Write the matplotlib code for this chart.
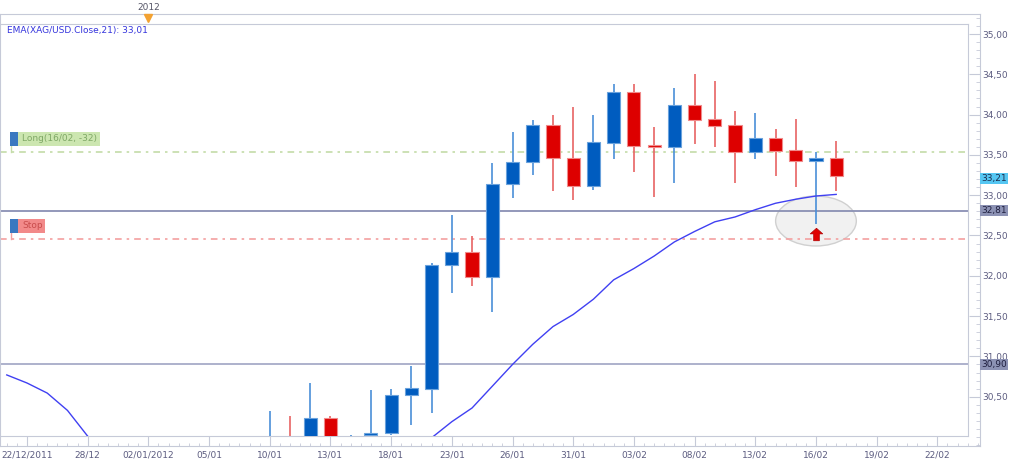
import numpy as np
import matplotlib
matplotlib.use("Agg")
import matplotlib.pyplot as plt
import matplotlib.transforms as mtransforms
from matplotlib.patches import Ellipse, Rectangle
from matplotlib.ticker import FixedLocator, MultipleLocator, FuncFormatter

# candle index 0 = 22/12/2011, one step per trading day
candle_dates = ["10/01", "11/01", "12/01", "13/01", "16/01", "17/01", "18/01",
                "19/01", "20/01", "23/01", "24/01", "25/01", "26/01", "27/01",
                "30/01", "31/01", "01/02", "02/02", "03/02", "06/02", "07/02",
                "08/02", "09/02", "10/02", "13/02", "14/02", "15/02", "16/02",
                "17/02"]
first_candle = 12
opens = [29.55, 29.95, 29.80, 30.24, 29.80, 30.02, 30.05, 30.52, 30.60, 32.13,
         32.29, 31.99, 33.135, 33.41, 33.87, 33.465, 33.12, 33.65, 34.28, 33.625,
         33.60, 34.12, 33.94, 33.87, 33.53, 33.705, 33.56, 33.43, 33.465]
highs = [30.32, 30.26, 30.67, 30.26, 30.03, 30.58, 30.59, 30.885, 32.16, 32.76,
         32.49, 33.40, 33.79, 33.93, 34.00, 34.10, 33.99, 34.375, 34.38, 33.84,
         34.33, 34.50, 34.42, 34.04, 34.02, 33.82, 33.945, 33.54, 33.67]
lows = [29.40, 29.60, 29.70, 29.70, 29.60, 29.90, 30.02, 30.15, 30.30, 31.79,
        31.87, 31.55, 32.97, 33.25, 33.05, 32.94, 33.07, 33.445, 33.29, 32.975,
        33.15, 33.64, 33.60, 33.155, 33.445, 33.24, 33.10, 32.64, 33.055]
closes = [29.85, 29.70, 30.24, 29.85, 29.95, 30.05, 30.52, 30.61, 32.13, 32.29,
          31.99, 33.135, 33.415, 33.87, 33.46, 33.12, 33.66, 34.28, 33.61, 33.60,
          34.12, 33.93, 33.86, 33.53, 33.705, 33.55, 33.43, 33.46, 33.24]

# EMA 21, index -1 .. 40
ema_start = -1
ema = [30.77, 30.67, 30.545, 30.33, 30.01, 29.84, 29.70, 29.60, 29.52, 29.46,
       29.42, 29.40, 29.40, 29.42, 29.45, 29.48, 29.52, 29.57, 29.63, 29.70,
       29.78, 29.99, 30.19, 30.36, 30.63, 30.90, 31.15, 31.37, 31.52, 31.71,
       31.95, 32.09, 32.245, 32.42, 32.55, 32.67, 32.73, 32.82, 32.90, 32.95,
       32.99, 33.01]

tick_labels = ["22/12/2011", "28/12", "02/01/2012", "05/01", "10/01", "13/01",
               "18/01", "23/01", "26/01", "31/01", "03/02", "08/02", "13/02",
               "16/02", "19/02", "22/02"]
tick_pos = list(range(0, 3 * len(tick_labels), 3))
price_ticks = [30.5, 31.0, 31.5, 32.0, 32.5, 33.0, 33.5, 34.0, 34.5, 35.0]
year_pos = 6

long_level = 33.54
stop_level = 32.46
level_lines = [32.81, 30.90]
last_price = 33.21
signal_pos = 39

# ---- layout (pixels) ----
W, H = 1024, 465
X0PX, CPX = 27.0, 20.23         # x of candle 0, px per candle
Y35, PPU = 34.0, 80.6           # y of price 35.00, px per price unit


def i_at(x):
    return (x - X0PX) / CPX


def p_at(y):
    return 35.0 - (y - Y35) / PPU


def comma(v, _=None):
    return f"{v:.2f}".replace(".", ",")


BLUE, BLUE_EDGE, BLUE_WICK = "#005cbf", "#6aa2dc", "#4a8fd8"
RED, RED_EDGE, RED_WICK = "#dd0000", "#f08a8a", "#e86464"
FRAME = "#c6cad8"
LABEL = "#5c5c80"

fig = plt.figure(figsize=(W / 100, H / 100), dpi=100)

# outer frame holding the tick strips
axo = fig.add_axes([0, (H - 446) / H, 980 / W, 432 / H])
axo.set_zorder(1)
axo.set_xlim(i_at(0), i_at(980))
for s in axo.spines.values():
    s.set_color(FRAME)
axo.xaxis.set_major_locator(FixedLocator(tick_pos))
axo.xaxis.set_minor_locator(MultipleLocator(0.5))
axo.set_xticklabels(tick_labels)
axo.yaxis.tick_right()
axo.yaxis.set_major_locator(FixedLocator(price_ticks))
axo.yaxis.set_minor_locator(MultipleLocator(0.1))
axo.yaxis.set_major_formatter(FuncFormatter(comma))
axo.set_ylim(p_at(446), p_at(14))
axo.tick_params(which="both", direction="in", colors=FRAME, labelcolor=LABEL,
                labelsize=6.5)
axo.tick_params(axis="x", which="major", length=7.5, pad=3)
axo.tick_params(axis="x", which="minor", length=2.5)
axo.tick_params(axis="y", which="major", length=8.2, pad=2)
axo.tick_params(axis="y", which="minor", length=2.8)

# year marker in the top strip
axo.plot(year_pos, p_at(18.5), marker="v", ms=6, color="#f3a232",
         clip_on=False, zorder=5)
fig.text((X0PX + year_pos * CPX) / W, 1 - 7 / H, "2012", ha="center",
         va="center", fontsize=6.5, color="#555566")

# right side price boxes
to = mtransforms.blended_transform_factory(axo.transAxes, axo.transData)
boxes = [(last_price, "#55c6f2", "#1c2c4c")] + \
        [(lv, "#8c92b4", "#202040") for lv in level_lines]
for lv, fc, tc in boxes:
    axo.text(1.0 + 1.5 / 980, lv, comma(lv), transform=to, ha="left",
             va="center", fontsize=6.5, color=tc, zorder=6, clip_on=False,
             bbox=dict(boxstyle="square,pad=0.12", fc=fc, ec="none"))

# main plot
ax = fig.add_axes([0, (H - 436) / H, 968 / W, 412 / H])
ax.set_zorder(2)
ax.set_xlim(i_at(0), i_at(968))
ax.set_ylim(p_at(436), p_at(24))
ax.set_xticks([])
ax.set_yticks([])
for s in ax.spines.values():
    s.set_color(FRAME)

o = np.array(opens)
h = np.array(highs)
l = np.array(lows)
c = np.array(closes)
idx = np.arange(first_candle, first_candle + len(candle_dates))
up = c >= o

ax.add_patch(Ellipse((signal_pos, 32.68), 3.99, 0.62, fc="#f1f1f1",
                     ec="#d0d0d0", lw=1, zorder=1))

ax.axhline(level_lines[0], color="#8a90b4", lw=1.3, zorder=2)
ax.axhline(level_lines[1], color="#a0a4c4", lw=1.2, zorder=2)
ax.axhline(long_level, color="#c4dca8", lw=1.2, ls=(0, (4, 3, 1.5, 3)), zorder=2)
ax.axhline(stop_level, color="#f4a0a0", lw=1.2, ls=(0, (4, 3, 1.5, 3)), zorder=2)

ax.vlines(idx, l, h, colors=np.where(up, BLUE_WICK, RED_WICK), lw=1.2,
          zorder=3)
ax.bar(idx, np.maximum(np.abs(c - o), 0.02), bottom=np.minimum(o, c),
       width=0.65, color=np.where(up, BLUE, RED),
       edgecolor=np.where(up, BLUE_EDGE, RED_EDGE), lw=0.8, zorder=4)

ax.plot(np.arange(ema_start, ema_start + len(ema)), ema, color="#4040f2",
        lw=1, zorder=5)

arrow = [(0, 1), (-1, 0.1), (-0.45, 0.1), (-0.45, -1), (0.45, -1),
         (0.45, 0.1), (1, 0.1), (0, 1)]
ax.plot(signal_pos, 32.52, marker=arrow, ms=9, color="#e00000",
        mec="#b00000", mew=0.5, zorder=6)

# order tags on the left
tr = mtransforms.blended_transform_factory(ax.transAxes, ax.transData)
px = 1.0 / PPU
tags = [(long_level, "Long(16/02, -32)", 82, "#cce6b0", "#7fa866", "#c4dca8"),
        (stop_level, "Stop", 27, "#f28a8a", "#c84c4c", "#f4a0a0")]
for lv, txt, wpx, fc, tc, stem in tags:
    ax.plot([10.5 / 968] * 2, [lv, lv + 6 * px], transform=tr, color=stem,
            lw=1, zorder=6)
    ax.add_patch(Rectangle((10 / 968, lv + 6 * px), 8 / 968, 14 * px,
                           transform=tr, fc="#3a78c0", ec="none", zorder=6))
    ax.add_patch(Rectangle((18 / 968, lv + 6 * px), wpx / 968, 14 * px,
                           transform=tr, fc=fc, ec="none", zorder=6))
    ax.text(22 / 968, lv + 13 * px, txt, transform=tr, ha="left", va="center",
            fontsize=6.5, color=tc, zorder=7)

fig.text(7 / W, 1 - 30 / H, "EMA(XAG/USD.Close,21): " + comma(ema[-1]),
         ha="left", va="center", fontsize=6.5, color="#3535dd")

fig.savefig("out.png", dpi=100)
